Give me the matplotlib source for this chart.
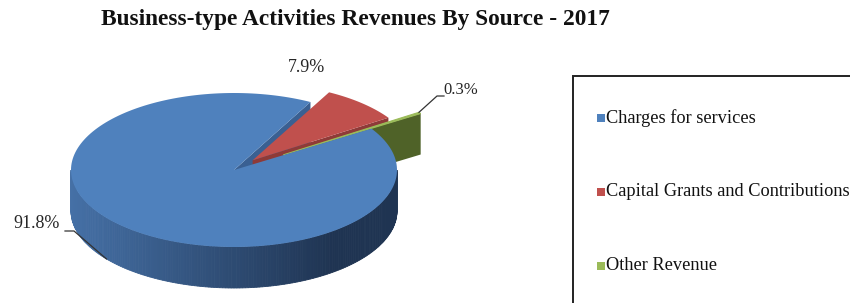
import numpy as np
import matplotlib
matplotlib.use("Agg")
import matplotlib.pyplot as plt
from matplotlib.patches import Polygon, Rectangle
from matplotlib.colors import to_rgb

# data
categories = ["Charges for services", "Capital Grants and Contributions", "Other Revenue"]
values = [91.8, 7.9, 0.3]
title = "Business-type Activities Revenues By Source - 2017"

# style
top_colors = ["#4f81bd", "#c0504d", "#9bbb59"]
face_colors = ["#35598a", "#8e3a38", "#4f6228"]
explode = [0.0, 0.17, 0.36]
start_angle = 32.5          # degrees, slices run clockwise
cx, cy = 234, 170           # pie centre in pixels
rx, ry = 163, 77            # ellipse semi axes
depth = 41                  # thickness of the pie

plt.rcParams['font.family'] = ['Liberation Serif', 'DejaVu Serif']

fig = plt.figure(figsize=(8.5, 3.03), dpi=100)
ax = fig.add_axes([0, 0, 1, 1])
ax.set_xlim(0, 850)
ax.set_ylim(303, 0)
ax.axis("off")


def pt(ox, oy, ang, r=1.0, dz=0):
    a = np.radians(ang)
    return ox + rx * r * np.cos(a), oy - ry * r * np.sin(a) + dz


# slice angles from the values
fracs = np.array(values) / sum(values)
slices = []
a0 = start_angle
for i, f in enumerate(fracs):
    a1 = a0 - f * 360
    mid = np.radians((a0 + a1) / 2)
    ox = cx + explode[i] * rx * np.cos(mid)
    oy = cy - explode[i] * ry * np.sin(mid)
    slices.append((a1, a0, ox, oy))   # counter-clockwise from a1 to a0
    a0 = a1


def top_poly(i):
    lo, hi, ox, oy = slices[i]
    angs = np.linspace(lo, hi, 200)
    pts = [(ox, oy)] + [pt(ox, oy, a) for a in angs]
    return pts


def radial_face(i, ang):
    lo, hi, ox, oy = slices[i]
    p = pt(ox, oy, ang)
    return [(ox, oy), p, (p[0], p[1] + depth), (ox, oy + depth)]


# blue: radial face at its counter-clockwise edge (seen through the gap)
lo_b, hi_b, ox_b, oy_b = slices[0]
ax.add_patch(Polygon(radial_face(0, lo_b), closed=True, fc="#3a6092", ec="none"))

# red slice
lo_r = slices[1][0]
ax.add_patch(Polygon(radial_face(1, lo_r), closed=True, fc=face_colors[1], ec="none"))
ax.add_patch(Polygon(top_poly(1), closed=True, fc=top_colors[1], ec="none"))

# green slice
lo_g = slices[2][0]
ax.add_patch(Polygon(radial_face(2, lo_g), closed=True, fc=face_colors[2], ec="none"))
ax.add_patch(Polygon(top_poly(2), closed=True, fc=top_colors[2], ec=top_colors[2], lw=0.8))

# blue outer wall at the front, shaded left to right
light = np.array(to_rgb("#4570a6"))
dark = np.array(to_rgb("#1f3452"))
wall = np.linspace(180, 360, 181)
for k in range(len(wall) - 1):
    a, b = wall[k], wall[k + 1]
    p1, p2 = pt(ox_b, oy_b, a), pt(ox_b, oy_b, b)
    t = min(1.0, max(0.0, (p1[0] - (cx - rx)) / (rx * 1.6)))
    col = light * (1 - t) + dark * t
    quad = [p1, p2, (p2[0], p2[1] + depth), (p1[0], p1[1] + depth)]
    ax.add_patch(Polygon(quad, closed=True, fc=col, ec=col, lw=0.6))

# blue top
ax.add_patch(Polygon(top_poly(0), closed=True, fc=top_colors[0], ec="none"))

# labels
lab_col = "#262626"
lbl = [f"{v:.1f}%" for v in values]

# 91.8% with leader from the lower wall edge
p = pt(ox_b, oy_b, 218.5, dz=depth)
ax.plot([p[0], 74, 65], [p[1], 231, 231], color="#333333", lw=0.9)
ax.text(60, 232, lbl[0], ha="right", va="bottom", fontsize=13, color=lab_col)

# 7.9% above the red slice
ax.text(307, 67, lbl[1], ha="center", va="center", fontsize=13, color=lab_col)

# 0.3% with leader from the green rim
lo_g, hi_g, ox_g, oy_g = slices[2]
p = pt(ox_g, oy_g, hi_g)
ax.plot([p[0], 437, 444], [p[1], 96, 96], color="#333333", lw=0.9)
ax.text(443, 98, lbl[2], ha="left", va="bottom", fontsize=12, color=lab_col)

# title
ax.text(355, 19, title, ha="center", va="center", fontsize=16.8,
        fontweight="bold", color="#111111")

# legend box (runs past the right and bottom edges)
ax.add_patch(Rectangle((573.5, 75.5), 300, 260, fc="white", ec="#222222", lw=1.4))
leg_y = [118, 192, 266]
for i, name in enumerate(categories):
    ax.add_patch(Rectangle((597, leg_y[i] - 4), 8, 8, fc=top_colors[i], ec="none"))
    ax.text(606, leg_y[i], name, ha="left", va="center", fontsize=13.2, color="#111111")

fig.savefig("out.png", dpi=100)
